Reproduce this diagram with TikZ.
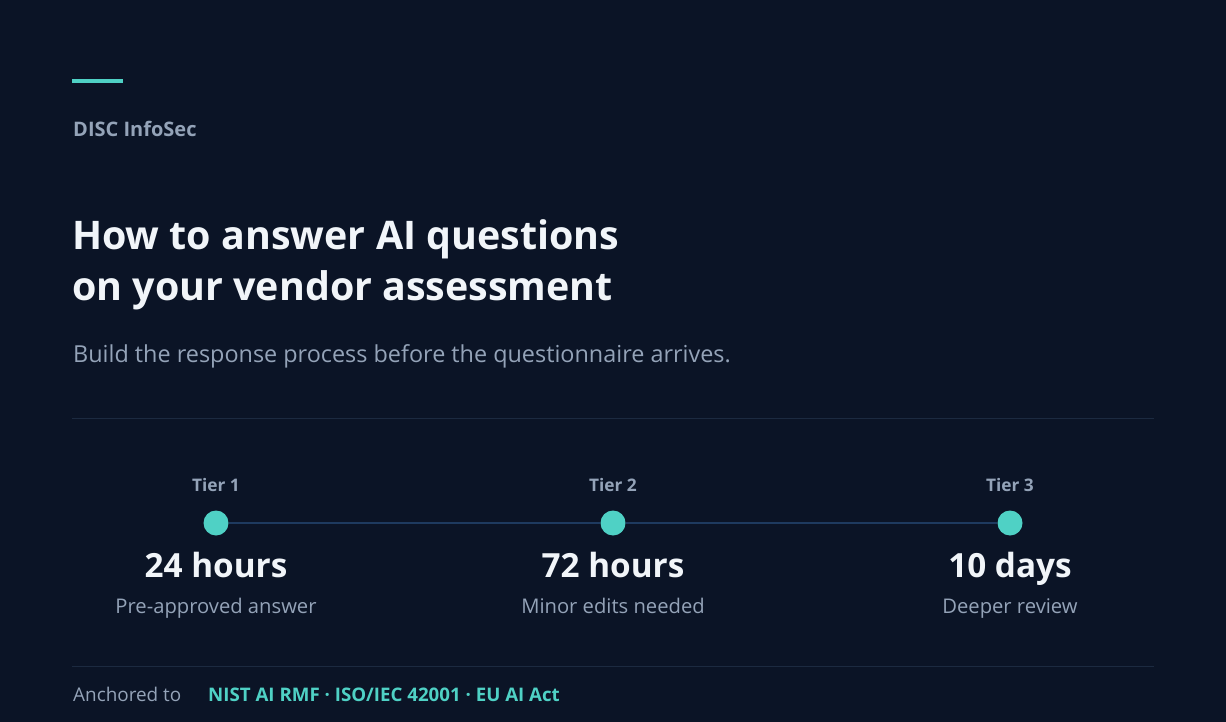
\documentclass[tikz,border=0pt]{standalone}
\usepackage{fontspec}
\IfFontExistsTF{Open Sans SemiBold}
  {\setmainfont{Open Sans}[BoldFont={Open Sans SemiBold}]}
  {\setmainfont{Open Sans}}
\definecolor{bgnavy}{HTML}{0B1426}
\definecolor{teal}{HTML}{4FD1C5}
\definecolor{slate}{HTML}{94A3B8}
\definecolor{snow}{HTML}{F1F5F9}
\definecolor{rule}{HTML}{1C2A40}
\definecolor{track}{HTML}{1E3A5F}
\tikzset{
  txt/.style={inner sep=0pt, anchor=base west},
  ctxt/.style={inner sep=0pt, anchor=base},
  tierdot/.style={circle, fill=teal, minimum size=25pt, inner sep=0pt},
}
\begin{document}
\begin{tikzpicture}[x=1pt, y=-1pt]
      \useasboundingbox[fill=bgnavy] (0,0) rectangle (1226,722);
      % header
      \draw[teal, line width=3.5pt]
        (72,81) coordinate (acc1) -- (123,81) coordinate (acc2);
      \draw
        (73,137) node[txt, slate, font=\fontsize{20}{24}\selectfont\bfseries] (brand){DISC InfoSec}
        (72,249) node[txt, snow, font=\fontsize{39.4}{50}\selectfont\bfseries] (title){How to answer AI questions}
        (72,300) node[txt, snow, font=\fontsize{39.4}{50}\selectfont\bfseries] (titleb){on your vendor assessment}
        (73,362) node[txt, slate, font=\fontsize{23.4}{28}\selectfont] (sub){Build the response process before the questionnaire arrives.};
      \draw
        (72,418) coordinate (ruleA1)
        (1154,418) coordinate (ruleA2)
        (72,666) coordinate (ruleB1)
        (1154,666) coordinate (ruleB2);
      % tiers
      \draw
        (216,523) node[tierdot] (d1){}
        (613,523) node[tierdot] (d2){}
        (1010,523) node[tierdot] (d3){}
        (216,491) node[ctxt, slate, font=\fontsize{17.3}{20}\selectfont\bfseries] (t1){Tier 1}
        (613,491) node[ctxt, slate, font=\fontsize{17.3}{20}\selectfont\bfseries] (t2){Tier 2}
        (1010,491) node[ctxt, slate, font=\fontsize{17.3}{20}\selectfont\bfseries] (t3){Tier 3}
        (216,577) node[ctxt, snow, font=\fontsize{33.3}{38}\selectfont\bfseries] (h1){24 hours}
        (613,577) node[ctxt, snow, font=\fontsize{33.3}{38}\selectfont\bfseries] (h2){72 hours}
        (1010,577) node[ctxt, snow, font=\fontsize{33.3}{38}\selectfont\bfseries] (h3){10 days}
        (216,613) node[ctxt, slate, font=\fontsize{20.2}{24}\selectfont] (s1){Pre-approved answer}
        (613,613) node[ctxt, slate, font=\fontsize{20.2}{24}\selectfont] (s2){Minor edits needed}
        (1010,613) node[ctxt, slate, font=\fontsize{20.2}{24}\selectfont] (s3){Deeper review};
      % footer
      \draw
        (73,701) node[txt, slate, font=\fontsize{18.9}{22}\selectfont] (anch){Anchored to}
        (208,701) node[txt, teal, font=\fontsize{18.7}{22}\selectfont\bfseries] (stds){NIST AI RMF · ISO/IEC 42001 · EU AI Act};
      \begin{scope}[line width=1pt]
        \draw[rule] (ruleA1) to (ruleA2);
        \draw[rule] (ruleB1) to (ruleB2);
        \draw[track, line width=1.5pt] (d1) to (d2);
        \draw[track, line width=1.5pt] (d2) to (d3);
      \end{scope}
    \end{tikzpicture}
\end{document}
